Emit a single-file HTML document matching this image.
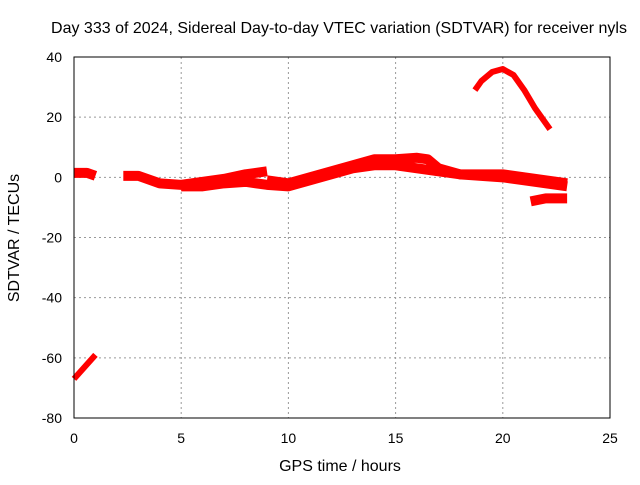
<!DOCTYPE html>
<html><head><meta charset="utf-8"><style>
body{margin:0;background:#fff}
text{font-family:"Liberation Sans",sans-serif;font-size:14px;fill:#000}
.big{font-size:16px}
</style></head><body>
<svg id="c" width="640" height="480">
<rect width="640" height="480" fill="#fff"/>
<text class="big" x="339" y="33" text-anchor="middle">Day 333 of 2024, Sidereal Day-to-day VTEC variation (SDTVAR) for receiver nyls</text>
<text class="big" x="340" y="471" text-anchor="middle">GPS time / hours</text>
<text class="big" transform="translate(19,238) rotate(-90)" text-anchor="middle">SDTVAR / TECUs</text>
<g id="grid"></g><g id="ticks"></g><g id="series"></g>
<rect x="74" y="57" width="536" height="361" fill="none" stroke="#000" stroke-width="1"/>
</svg>
<script>
const xTicks=[0,5,10,15,20,25];
const yTicks=[40,20,0,-20,-40,-60,-80];
const trackA_t=[0,0.3,0.6,1.0];
const trackA_v=[1.5,1.5,1.5,0.5];
const trackB_t=[0,0.5,1.0];
const trackB_v=[-67,-63,-59];
const trackC_t=[2.3,3,4,5,6,7,8,9];
const trackC_v=[0.5,0.5,-2,-2.5,-1.5,-0.5,1,2];
const trackD_t=[5,6,7,8,9,10,11,12,13,14,15,16,17,18,19,20,21,22,23];
const trackD_v=[-3,-3,-2,-1.5,-2.5,-3,-1,1,3,4,4,3,2,1,0.5,0,-1,-2,-3];
const trackE_t=[9,10,11,12,13,14,15,16,16.5,17,18,19,20,21,22,23];
const trackE_v=[-1,-2,0,2,4,6,6,6.5,6,3,1,1,1,0,-1,-2];
const trackF_t=[18.7,19,19.5,20,20.5,21,21.5,22.2];
const trackF_v=[29,32,35,36,34,29,23,16];
const trackG_t=[21.3,22,23];
const trackG_v=[-8,-7,-7];
const X=t=>74+t*536/25, Y=v=>57+(40-v)*361/120;
const NS="http://www.w3.org/2000/svg";
const g=document.getElementById('grid'),tk=document.getElementById('ticks'),s=document.getElementById('series');
function mk(tag,a,p){const e=document.createElementNS(NS,tag);for(const k in a)e.setAttribute(k,a[k]);p.appendChild(e);return e;}
xTicks.forEach(t=>{
 if(t>0&&t<25){const l=mk('line',{x1:X(t),x2:X(t),y1:57,y2:418,stroke:'#999','stroke-dasharray':'2,3'},g);
 
 }
 const tx=mk('text',{x:X(t),y:443,'text-anchor':'middle'},tk);tx.textContent=t;
 
 
});
yTicks.forEach(v=>{
 if(v<40&&v>-80){const l=mk('line',{x1:74,x2:610,y1:Y(v),y2:Y(v),stroke:'#999','stroke-dasharray':'2,3'},g);
 
 }
 const tx=mk('text',{x:62,y:Y(v)+5,'text-anchor':'end'},tk);tx.textContent=v;
 
 
});
const tracks=[[trackA_t,trackA_v],[trackB_t,trackB_v],[trackC_t,trackC_v],[trackD_t,trackD_v],[trackE_t,trackE_v],[trackF_t,trackF_v],[trackG_t,trackG_v]];
tracks.forEach(([ts,vs],i)=>{
 const pts=ts.map((t,j)=>X(t)+','+Y(vs[j])).join(' ');
 const p=mk('polyline',{points:pts,fill:'none',stroke:'#f00','stroke-width':i==1||i==5?6:10,'stroke-linejoin':'round','stroke-linecap':'butt'},s);
 
 
});
</script>
</body></html>
